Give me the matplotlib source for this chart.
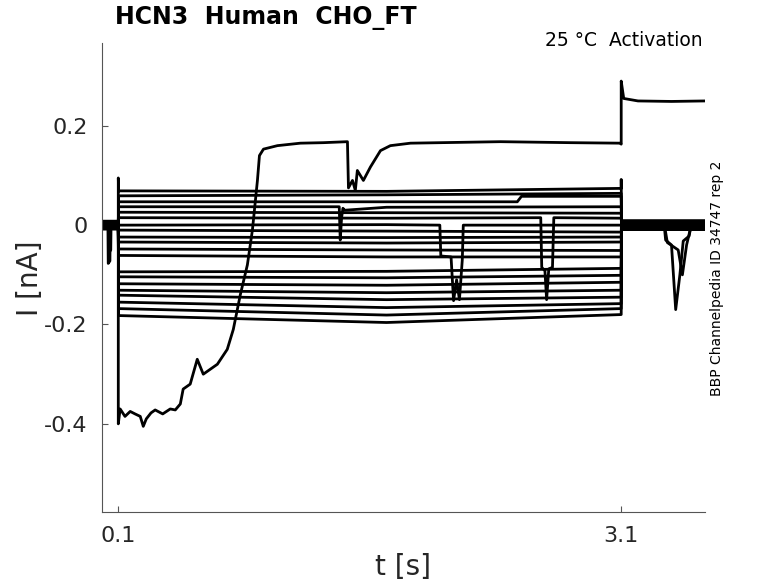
import matplotlib
matplotlib.use("Agg")
import matplotlib.pyplot as plt

# ---------------- data ----------------
T_START, T_ON, T_OFF, T_END = 0.0, 0.1, 3.1, 3.6

# level of each activation-step trace at step start, middle, and step end (nA)
step_start = [0.069, 0.059, 0.047, 0.037, 0.026, 0.015, 0.000, -0.010, -0.024, -0.034,
              -0.048, -0.061, -0.094, -0.104, -0.118, -0.131, -0.141, -0.155, -0.168, -0.182]
step_mid = [0.068, 0.061, 0.047, 0.036, 0.025, 0.014, 0.001, -0.012, -0.025, -0.036,
            -0.050, -0.064, -0.093, -0.106, -0.121, -0.136, -0.150, -0.166, -0.181, -0.196]
step_end = [0.074, 0.064, 0.058, 0.037, 0.024, 0.014, 0.000, -0.014, -0.024, -0.034,
            -0.051, -0.064, -0.087, -0.101, -0.115, -0.131, -0.145, -0.158, -0.168, -0.180]
# holding current before the step and tail current after it
hold_level = [0.006, -0.004, 0.002, 0.008, -0.006, 0.000, 0.004, -0.002, 0.007, -0.008,
              0.003, -0.005, 0.005, -0.001, 0.001, -0.007, 0.006, -0.003, 0.002, -0.006]
tail_level = [0.008, -0.006, 0.004, -0.002, 0.009, 0.001, -0.008, 0.005, -0.004, 0.007,
              -0.001, 0.003, -0.007, 0.006, 0.000, -0.005, 0.002, -0.009, 0.005, -0.003]

# capacitive transients of the top trace
spike_on_val, spike_off_val = 0.095, 0.092

# glitches (trace index, times, currents)
glitch1_idx, glitch1_t, glitch1_i = 3, [1.418, 1.424, 1.432, 1.440, 1.450], [0.037, -0.030, 0.015, 0.034, 0.030]
glitch2_idx, glitch2_t, glitch2_i = 6, [2.018, 2.024, 2.085, 2.100, 2.118, 2.135, 2.152, 2.158], [0.000, -0.062, -0.064, -0.152, -0.110, -0.150, -0.070, 0.000]
glitch3_idx, glitch3_t, glitch3_i = 5, [2.620, 2.626, 2.645, 2.655, 2.668, 2.690, 2.698], [0.015, -0.085, -0.092, -0.150, -0.088, -0.085, 0.015]
glitch4_idx, glitch4_t, glitch4_i = 2, [2.480, 2.505], [0.047, 0.058]
pre1_idx, pre1_t, pre1_i = 10, [0.038, 0.040, 0.050, 0.052], [0.003, -0.077, -0.072, 0.003]
pre2_idx, pre2_t, pre2_i = 12, [0.044, 0.046, 0.055, 0.057], [0.005, -0.055, -0.050, 0.005]
tail1_idx, tail1_t, tail1_i = 7, [3.355, 3.365, 3.400, 3.425, 3.450, 3.470, 3.505, 3.520], [0.005, -0.030, -0.040, -0.170, -0.100, -0.032, -0.022, 0.005]
tail2_idx, tail2_t, tail2_i = 8, [3.360, 3.375, 3.440, 3.465, 3.490, 3.515], [-0.004, -0.035, -0.050, -0.100, -0.040, -0.004]

# the unstable trace that runs away from -0.4 nA up to +0.17 nA
weird_t = [0.000, 0.100, 0.100, 0.111, 0.140, 0.171, 0.200, 0.231, 0.249, 0.267, 0.295, 0.320,
           0.365, 0.410, 0.440, 0.470, 0.487, 0.529, 0.571, 0.607, 0.649, 0.691, 0.750, 0.786,
           0.828, 0.870, 0.900, 0.930, 0.942, 0.966, 1.049, 1.186, 1.323, 1.467, 1.473, 1.497,
           1.514, 1.526, 1.562, 1.604, 1.664, 1.723, 1.843, 2.380, 2.800, 3.096, 3.100, 3.100,
           3.115, 3.200, 3.400, 3.600]
weird_i = [0.000, 0.000, -0.400, -0.370, -0.385, -0.375, -0.380, -0.385, -0.405, -0.390, -0.378, -0.372,
           -0.380, -0.370, -0.372, -0.360, -0.330, -0.320, -0.270, -0.300, -0.290, -0.280, -0.250, -0.210,
           -0.140, -0.080, -0.010, 0.090, 0.140, 0.153, 0.160, 0.165, 0.166, 0.168, 0.075, 0.090,
           0.070, 0.110, 0.090, 0.117, 0.150, 0.160, 0.165, 0.168, 0.166, 0.165, 0.163, 0.290,
           0.255, 0.250, 0.249, 0.250]

xticks = [0.1, 3.1]
xtick_labels = ["0.1", "3.1"]
yticks = [0.2, 0.0, -0.2, -0.4]
ytick_labels = ["0.2", "0", "-0.2", "-0.4"]

# ---------------- build traces ----------------
events = {}
for idx, ts, vs in [(glitch1_idx, glitch1_t, glitch1_i), (glitch2_idx, glitch2_t, glitch2_i),
                    (glitch3_idx, glitch3_t, glitch3_i), (glitch4_idx, glitch4_t, glitch4_i),
                    (pre1_idx, pre1_t, pre1_i), (pre2_idx, pre2_t, pre2_i),
                    (tail1_idx, tail1_t, tail1_i), (tail2_idx, tail2_t, tail2_i)]:
    events.setdefault(idx, []).extend(zip(ts, vs))

fig = plt.figure(figsize=(7.78, 5.83), dpi=100)
ax = fig.add_axes([0.1305, 0.1213, 0.7757, 0.8044])

LW = 2.0
for k in range(len(step_start)):
    ev = sorted(events.get(k, []))
    pre = [(t, v) for t, v in ev if t < T_ON]
    mid = [(t, v) for t, v in ev if T_ON < t < T_OFF]
    post = [(t, v) for t, v in ev if t > T_OFF]
    pts = [(T_START, hold_level[k])] + pre + [(T_ON, hold_level[k])]
    if k == 0:
        pts.append((T_ON, spike_on_val))
    pts.append((T_ON + 0.002, step_start[k]))
    pts += sorted([(1.7, step_mid[k])] + mid)
    pts.append((T_OFF, step_end[k]))
    if k == 0:
        pts.append((T_OFF, spike_off_val))
    pts.append((T_OFF + 0.002, tail_level[k]))
    pts += post
    pts.append((T_END, tail_level[k]))
    ax.plot([p[0] for p in pts], [p[1] for p in pts], color="black", lw=LW)

ax.plot(weird_t, weird_i, color="black", lw=LW)

# ---------------- axes styling ----------------
ax.set_xlim(0.0, 3.6)
ax.set_ylim(-0.578, 0.366)
for s in ["top", "right"]:
    ax.spines[s].set_visible(False)
for s in ["left", "bottom"]:
    ax.spines[s].set_color("#555555")
    ax.spines[s].set_linewidth(0.8)
ax.set_xticks(xticks)
ax.set_xticklabels(xtick_labels)
ax.set_yticks(yticks)
ax.set_yticklabels(ytick_labels)
ax.tick_params(direction="in", length=4.5, width=0.8, color="#555555",
               labelsize=16, labelcolor="#262626", pad=10)
ax.set_xlabel("t [s]", fontsize=20, color="#262626", labelpad=5)
ax.set_ylabel("I [nA]", fontsize=20, color="#262626", labelpad=0)

fig.text(115 / 778, 1 - 18 / 583, "HCN3  Human  CHO_FT", fontsize=17, fontweight="bold",
         ha="left", va="center", color="black")
fig.text(703 / 778, 1 - 40 / 583, "25 °C  Activation", fontsize=13.5, ha="right",
         va="center", color="black")
fig.text(717 / 778, 1 - 278 / 583, "BBP Channelpedia ID 34747 rep 2", fontsize=10,
         rotation=90, ha="center", va="center", color="black")

fig.savefig("out.png", dpi=100)
